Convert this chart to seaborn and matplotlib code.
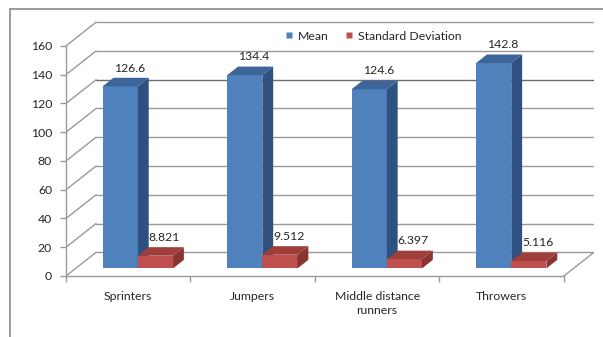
import matplotlib
matplotlib.use("Agg")
import matplotlib.pyplot as plt
from matplotlib.patches import Polygon, Rectangle
from matplotlib.lines import Line2D
import seaborn as sns
import pandas as pd

categories = ["Sprinters", "Jumpers", "Middle distance\nrunners", "Throwers"]
series = ["Mean", "Standard Deviation"]
mean_values = [126.6, 134.4, 124.6, 142.8]
sd_values = [8.821, 9.512, 6.397, 5.116]
value_labels = {"Mean": ["126.6", "134.4", "124.6", "142.8"],
                "Standard Deviation": ["8.821", "9.512", "6.397", "5.116"]}
y_ticks = [0, 20, 40, 60, 80, 100, 120, 140, 160]

df = pd.DataFrame({
    "Group": categories * 2,
    "Series": [series[0]] * 4 + [series[1]] * 4,
    "Value": mean_values + sd_values,
})

face = {"Mean": "#4F81BD", "Standard Deviation": "#C0504D"}
side = {"Mean": "#2F5180", "Standard Deviation": "#883431"}
top = {"Mean": "#3D659A", "Standard Deviation": "#A03E3B"}

# oblique depth of the 3-D box, in data units
DX, DY = 0.242, 16.5
F0, FD = 0.32, 0.36   # bar front-plane offset and bar depth (fractions)
GRID = "#9a9a9a"
TXT = "#262626"
FS = 8.8

sns.set_theme(style="white")
plt.rcParams["font.family"] = ["Lato", "DejaVu Sans"]

fig = plt.figure(figsize=(6.03, 3.37), dpi=100)
ax = fig.add_axes([66 / 603, 61 / 337, 528 / 603, 256 / 337])

sns.barplot(data=df, x="Group", y="Value", hue="Series", hue_order=series,
            palette=face, width=0.565, dodge=True, legend=False,
            saturation=1, ax=ax, zorder=2)

ax.set_xlim(-0.5, 3.5 + DX)
ax.set_ylim(0, 178)

# back wall gridlines and left wall diagonals
for v in y_ticks:
    col = "#6e6e6e" if v == 120 else GRID
    ax.plot([-0.5 + DX, 3.5 + DX], [v + DY, v + DY], color=col, lw=1, zorder=0)
    ax.plot([-0.5, -0.5 + DX], [v, v + DY], color=GRID, lw=1, zorder=0)
# floor right edge
ax.plot([3.5, 3.5 + DX], [0, DY], color=GRID, lw=1, zorder=0)

# give every bar its depth: shift the face back, add side and top
n = len(categories)
for i, p in enumerate(ax.patches[:2 * n]):
    s = series[i // n]
    k = i % n
    x0 = p.get_x() + F0 * DX
    y0 = F0 * DY
    w = p.get_width()
    h = p.get_height()
    z = 2 if s == "Mean" else 3
    p.set_x(x0)
    p.set_y(y0)
    p.set_edgecolor("none")
    p.set_zorder(z)
    ddx, ddy = FD * DX, FD * DY
    ax.add_patch(Polygon([(x0 + w, y0), (x0 + w + ddx, y0 + ddy),
                          (x0 + w + ddx, y0 + h + ddy), (x0 + w, y0 + h)],
                         closed=True, facecolor=side[s], edgecolor="none", zorder=z))
    ax.add_patch(Polygon([(x0, y0 + h), (x0 + w, y0 + h),
                          (x0 + w + ddx, y0 + h + ddy), (x0 + ddx, y0 + h + ddy)],
                         closed=True, facecolor=top[s], edgecolor="none", zorder=z))
    ax.annotate(value_labels[s][k], (x0 + w / 2 + 0.3 * DX, y0 + h + ddy),
                xytext=(0, 3), textcoords="offset points", ha="center",
                va="bottom", fontsize=FS, color=TXT, zorder=5)

# axes styling
for sp in ["top", "right"]:
    ax.spines[sp].set_visible(False)
ax.spines["left"].set_bounds(0, 160)
ax.spines["bottom"].set_bounds(-0.5, 3.5)
for sp in ["left", "bottom"]:
    ax.spines[sp].set_color(GRID)
    ax.spines[sp].set_linewidth(1)
ax.set_yticks(y_ticks)
ax.set_yticklabels([str(v) for v in y_ticks])
ax.set_xticks(range(n))
ax.set_xticklabels(categories, linespacing=1.3)
ax.set_xticks([-0.5, 0.5, 1.5, 2.5, 3.5], minor=True)
ax.tick_params(axis="y", length=4, width=1, color=GRID, pad=6,
               labelsize=FS, labelcolor=TXT, left=True)
ax.tick_params(axis="x", which="major", length=0, pad=11,
               labelsize=FS, labelcolor=TXT)
ax.tick_params(axis="x", which="minor", length=4, width=1, color=GRID,
               bottom=True)
for lab in ax.get_xticklabels():
    lab.set_verticalalignment("top")
ax.set_xlabel("")
ax.set_ylabel("")
ax.grid(False)

handles = [Line2D([], [], marker="s", linestyle="none", markersize=5,
                  markerfacecolor=face[s], markeredgecolor="none") for s in series]
fig.legend(handles, series, loc="center", bbox_to_anchor=(0.617, 0.893),
           ncol=2, frameon=False, fontsize=FS, handletextpad=0.2,
           columnspacing=1.2, handlelength=1.0, labelcolor=TXT)

# chart area frame
fig.add_artist(Rectangle((10 / 603, -0.2), 1.2, 1.2 - 9 / 337,
                         transform=fig.transFigure, fill=False,
                         edgecolor="#8a8a8a", lw=1.2))

fig.savefig("out.png", dpi=100)
